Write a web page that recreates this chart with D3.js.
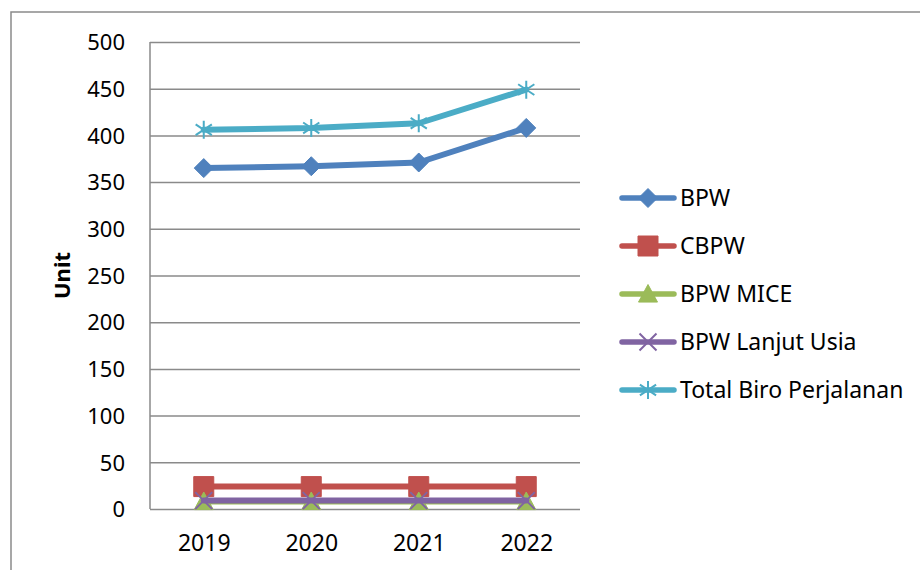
<!DOCTYPE html>
<html>
<head>
<meta charset="utf-8">
<script src="https://cdn.jsdelivr.net/npm/d3@7"></script>
<style>
  html, body { margin: 0; padding: 0; background: #fff; }
  svg { display: block; }
  text { font-family: "Noto Sans", "Open Sans", sans-serif; fill: #000; }
</style>
</head>
<body>
<div id="chart"></div>
<script>
const years = ["2019", "2020", "2021", "2022"];
const seriesNames = ["BPW", "CBPW", "BPW MICE", "BPW Lanjut Usia", "Total Biro Perjalanan"];
const bpw = [365, 367, 371, 408];
const cbpw = [24, 24, 24, 24];
const bpwMice = [8, 8, 8, 8];
const bpwLanjutUsia = [9, 9, 9, 9];
const totalBiro = [406, 408, 413, 449];
const yTicks = [0, 50, 100, 150, 200, 250, 300, 350, 400, 450, 500];
const yTitle = "Unit";

const colors = ["#4F81BD", "#C0504D", "#9BBB59", "#8064A2", "#4BACC6"];
const markers = ["diamond", "square", "triangle", "x", "star"];
const seriesValues = [bpw, cbpw, bpwMice, bpwLanjutUsia, totalBiro];
const series = seriesNames.map((n, i) => ({ name: n, values: seriesValues[i], color: colors[i], marker: markers[i] }));

const W = 920, H = 570;
const svg = d3.select("#chart").append("svg").attr("width", W).attr("height", H);

// outer chart border
svg.append("rect").attr("x", 11).attr("y", 12).attr("width", W + 10).attr("height", H + 10)
  .attr("fill", "none").attr("stroke", "#8a8a8a").attr("stroke-width", 1.5);

const pLeft = 150, pRight = 580, pTop = 42, pBottom = 509;
const x = d3.scalePoint().domain(years).range([pLeft, pRight]).padding(0.5);
const y = d3.scaleLinear().domain([0, 500]).range([pBottom, pTop]);

// gridlines
const grid = svg.append("g").attr("transform", `translate(${pLeft},0)`)
  .call(d3.axisLeft(y).tickValues(yTicks).tickSize(-(pRight - pLeft)).tickFormat(""));
grid.select(".domain").remove();
grid.selectAll("line").attr("stroke", "#8a8a8a").attr("stroke-width", 1.5);

// y axis labels
const yAxis = svg.append("g").attr("transform", `translate(${pLeft - 25},0)`)
  .call(d3.axisLeft(y).tickValues(yTicks).tickSize(0).tickPadding(0));
yAxis.select(".domain").remove();
yAxis.selectAll("text").style("font-family", "'Noto Sans', sans-serif").style("font-size", "22px").attr("fill", "#000").attr("dy", "0.35em");

// left axis line
svg.append("line").attr("x1", pLeft).attr("x2", pLeft).attr("y1", pTop).attr("y2", pBottom)
  .attr("stroke", "#8a8a8a").attr("stroke-width", 1.5);

// x axis
const xAxis = svg.append("g").attr("transform", `translate(0,${pBottom})`)
  .call(d3.axisBottom(x).tickSize(0).tickPadding(26));
xAxis.select(".domain").remove();
xAxis.selectAll("text").style("font-family", "'Noto Sans', sans-serif").style("font-size", "23px").attr("fill", "#000");

// y title
svg.append("text").attr("transform", `translate(70,${(pTop + pBottom) / 2}) rotate(-90)`)
  .attr("text-anchor", "middle").style("font-size", "22px").style("font-weight", "bold").text(yTitle);

function markerPath(type, s) {
  const h = s / 2;
  switch (type) {
    case "diamond": return `M0,${-h}L${h},0L0,${h}L${-h},0Z`;
    case "square": return `M${-h},${-h}H${h}V${h}H${-h}Z`;
    case "triangle": return `M0,${-h}L${h},${h * 0.85}L${-h},${h * 0.85}Z`;
    case "x": return `M${-h},${-h}L${h},${h}M${-h},${h}L${h},${-h}`;
    case "star": return `M0,${-h}V${h}M${-h * 0.9},${-h * 0.6}L${h * 0.9},${h * 0.6}M${-h * 0.9},${h * 0.6}L${h * 0.9},${-h * 0.6}`;
  }
}
const markerSize = { diamond: 19, square: 20, triangle: 19, x: 17, star: 18 };

function drawMarker(g, type, color) {
  const p = g.append("path").attr("d", markerPath(type, markerSize[type]));
  if (type === "x" || type === "star") {
    p.attr("fill", "none").attr("stroke", color).attr("stroke-width", 2);
  } else {
    p.attr("fill", color).attr("stroke", color).attr("stroke-width", 1);
  }
}

const line = d3.line().x((d, i) => x(years[i])).y(d => y(d));

series.forEach(s => {
  const g = svg.append("g");
  g.append("path").attr("d", line(s.values)).attr("fill", "none")
    .attr("stroke", s.color).attr("stroke-width", 6).attr("stroke-linejoin", "round").attr("stroke-linecap", "round");
  s.values.forEach((v, i) => {
    const mg = g.append("g").attr("transform", `translate(${x(years[i])},${y(v)})`);
    drawMarker(mg, s.marker, s.color);
  });
});

// legend
const legend = svg.append("g");
series.forEach((s, i) => {
  const ly = 198 + i * 48;
  const lg = legend.append("g").attr("transform", `translate(0,${ly})`);
  lg.append("line").attr("x1", 622).attr("x2", 674).attr("y1", 0).attr("y2", 0)
    .attr("stroke", s.color).attr("stroke-width", 5.5).attr("stroke-linecap", "round");
  const mg = lg.append("g").attr("transform", "translate(648,0)");
  drawMarker(mg, s.marker, s.color);
  lg.append("text").attr("x", 680).attr("y", 0).attr("dy", "0.35em").style("font-size", "23px").text(s.name);
});
</script>
</body>
</html>
